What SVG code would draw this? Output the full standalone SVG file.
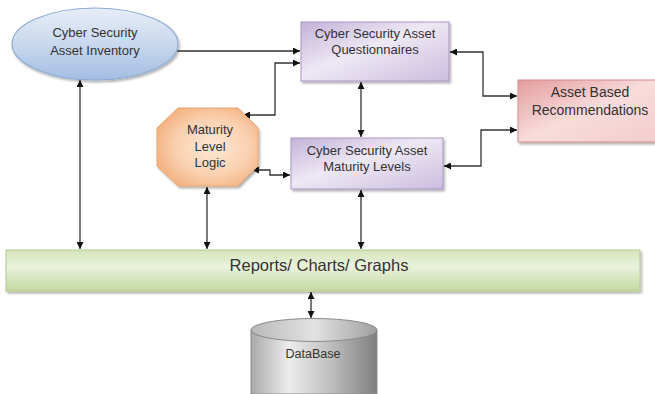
<svg xmlns="http://www.w3.org/2000/svg" width="655" height="394" viewBox="0 0 655 394">
<style>
text{font-family:"Liberation Sans",Arial,sans-serif;fill:#333;text-anchor:middle}
.t13{font-size:13px}
.t14{font-size:14px}
.conn{fill:none;stroke:#333;stroke-width:1.3}
</style>
<defs>
<marker id="ah" viewBox="0 0 10 10" refX="10" refY="5" markerWidth="7" markerHeight="7" markerUnits="userSpaceOnUse" orient="auto-start-reverse"><path d="M0,0L10,5L0,10z" fill="#111"/></marker>
<filter id="sh" x="-10%" y="-10%" width="125%" height="130%"><feDropShadow dx="1.5" dy="2" stdDeviation="1.2" flood-color="#000" flood-opacity="0.3"/></filter>
<linearGradient id="gEll" x1="0" y1="0" x2="0" y2="1"><stop offset="0" stop-color="#e6edf7"/><stop offset="0.5" stop-color="#c9d8ee"/><stop offset="1" stop-color="#a3bde2"/></linearGradient>
<linearGradient id="gPur" x1="0" y1="0" x2="1" y2="1"><stop offset="0" stop-color="#c3b2d8"/><stop offset="0.45" stop-color="#eee8f4"/><stop offset="1" stop-color="#cbbddf"/></linearGradient>
<radialGradient id="gOct" cx="0.55" cy="0.5" r="0.6"><stop offset="0" stop-color="#fde8d6"/><stop offset="0.6" stop-color="#fad1b0"/><stop offset="1" stop-color="#f3b07e"/></radialGradient>
<linearGradient id="gRec" x1="0" y1="0" x2="1" y2="1"><stop offset="0" stop-color="#e49c9c"/><stop offset="0.5" stop-color="#f8dcdc"/><stop offset="1" stop-color="#f3cccc"/></linearGradient>
<linearGradient id="gBar" x1="0" y1="0" x2="0" y2="1"><stop offset="0" stop-color="#d5e5bb"/><stop offset="0.4" stop-color="#eaf2dd"/><stop offset="1" stop-color="#c4d9a0"/></linearGradient>
<linearGradient id="gDb" x1="0" y1="0" x2="1" y2="0"><stop offset="0" stop-color="#a9a9a9"/><stop offset="0.3" stop-color="#ececec"/><stop offset="0.6" stop-color="#c4c4c4"/><stop offset="1" stop-color="#7f7f7f"/></linearGradient>
<linearGradient id="gDbTop" x1="0" y1="0" x2="1" y2="0"><stop offset="0" stop-color="#b8b8b8"/><stop offset="0.5" stop-color="#e2e2e2"/><stop offset="1" stop-color="#a0a0a0"/></linearGradient>
</defs>

<g id="connectors">
<path class="conn" d="M177,51H300" marker-end="url(#ah)"/>
<path class="conn" d="M243,115H275V63H300" marker-start="url(#ah)" marker-end="url(#ah)"/>
<path class="conn" d="M361,82V137" marker-start="url(#ah)" marker-end="url(#ah)"/>
<path class="conn" d="M450,52H483V96H517" marker-start="url(#ah)" marker-end="url(#ah)"/>
<path class="conn" d="M444,166H481V130H517" marker-start="url(#ah)" marker-end="url(#ah)"/>
<path class="conn" d="M252,170H270V175H290" marker-start="url(#ah)" marker-end="url(#ah)"/>
<path class="conn" d="M80,80V249" marker-start="url(#ah)" marker-end="url(#ah)"/>
<path class="conn" d="M207,187V249" marker-start="url(#ah)" marker-end="url(#ah)"/>
<path class="conn" d="M361,190V249" marker-start="url(#ah)" marker-end="url(#ah)"/>
<path class="conn" d="M311,292V318" marker-start="url(#ah)" marker-end="url(#ah)"/>
</g>

<g id="inventory">
<ellipse cx="95" cy="44" rx="83" ry="36" fill="url(#gEll)" stroke="#8fabd3" stroke-width="1.2" filter="url(#sh)"/>
<text class="t13" x="95" y="37">Cyber Security</text>
<text class="t13" x="95" y="55">Asset Inventory</text>
</g>

<g id="questionnaires">
<rect x="301" y="22" width="148" height="59" fill="url(#gPur)" stroke="#a995c6" stroke-width="1" filter="url(#sh)"/>
<text class="t13" x="375" y="38">Cyber Security Asset</text>
<text class="t13" x="375" y="54">Questionnaires</text>
</g>

<g id="maturity-logic">
<polygon points="178,108 238,108 258,128 258,166 238,186 178,186 157,166 157,128" fill="url(#gOct)" stroke="#e5a672" stroke-width="1" filter="url(#sh)"/>
<text class="t13" x="210" y="134">Maturity</text>
<text class="t13" x="210" y="151">Level</text>
<text class="t13" x="210" y="167">Logic</text>
</g>

<g id="maturity-levels">
<rect x="291" y="138" width="152" height="51" fill="url(#gPur)" stroke="#a995c6" stroke-width="1" filter="url(#sh)"/>
<text class="t13" x="367" y="155">Cyber Security Asset</text>
<text class="t13" x="367" y="171">Maturity Levels</text>
</g>

<g id="recommendations">
<rect x="518" y="80" width="140" height="62" fill="url(#gRec)" stroke="#d48c8c" stroke-width="1" filter="url(#sh)"/>
<text class="t14" x="590" y="97">Asset Based</text>
<text class="t14" x="590" y="115">Recommendations</text>
</g>

<g id="reports">
<rect x="6" y="250" width="634" height="41" fill="url(#gBar)" stroke="#b5cc8f" stroke-width="1" filter="url(#sh)"/>
<text x="319" y="271" style="font-size:16.5px">Reports/ Charts/ Graphs</text>
</g>

<g id="database">
<path d="M251,330V394H377V330" fill="url(#gDb)" stroke="#8a8a8a" stroke-width="1"/>
<ellipse cx="314" cy="330" rx="63" ry="11.5" fill="url(#gDbTop)" stroke="#8a8a8a" stroke-width="1"/>
<text x="313" y="358" style="font-size:12.5px">DataBase</text>
</g>
</svg>
